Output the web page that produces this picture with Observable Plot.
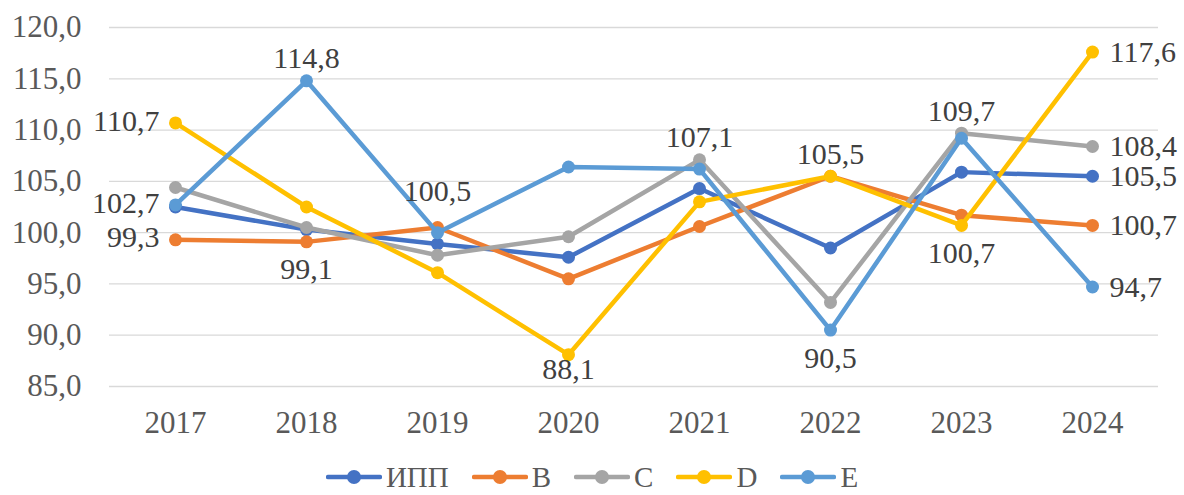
<!DOCTYPE html>
<html>
<head>
<meta charset="utf-8">
<script src="https://cdn.jsdelivr.net/npm/d3@7"></script>
<script src="https://cdn.jsdelivr.net/npm/@observablehq/plot@0.6"></script>
<style>
  html, body { margin: 0; padding: 0; background: #fff; }
  #legend { display: flex; justify-content: center; align-items: center; height: 34px;
    font-family: "Liberation Serif", "Times New Roman", serif; font-size: 29px; color: #595959; }
  #legend .item { display: flex; align-items: center; margin-right: 23px; height: 22px; }
  #legend .item:last-child { margin-right: 0; }
  #legend .item span { margin-left: 4px; line-height: 22px; display: inline-block; height: 22px; }
</style>
</head>
<body>
<div id="chart"></div>
<div id="legend"></div>
<script>
const years = ["2017", "2018", "2019", "2020", "2021", "2022", "2023", "2024"];
const seriesNames = ["ИПП", "B", "C", "D", "E"];
const seriesColors = ["#4472C4", "#ED7D31", "#A5A5A5", "#FFC000", "#5B9BD5"];
const ippValues = [102.5, 100.3, 98.9, 97.6, 104.3, 98.5, 105.9, 105.5];
const bValues   = [99.3, 99.1, 100.5, 95.5, 100.6, 105.5, 101.7, 100.7];
const cValues   = [104.4, 100.5, 97.8, 99.6, 107.1, 93.2, 109.7, 108.4];
const dValues   = [110.7, 102.5, 96.1, 88.1, 103.0, 105.5, 100.7, 117.6];
const eValues   = [102.7, 114.8, 100.0, 106.4, 106.2, 90.5, 109.2, 94.7];
const yTicks = [85, 90, 95, 100, 105, 110, 115, 120];
// data labels: which point gets a label and on which side
const labelSpecs = [
  {series: "D", year: "2017", pos: "left"},
  {series: "E", year: "2017", pos: "left"},
  {series: "B", year: "2017", pos: "left"},
  {series: "E", year: "2018", pos: "top"},
  {series: "B", year: "2018", pos: "bottom"},
  {series: "B", year: "2019", pos: "topFar"},
  {series: "D", year: "2020", pos: "bottomNear"},
  {series: "C", year: "2021", pos: "top"},
  {series: "D", year: "2022", pos: "top"},
  {series: "E", year: "2022", pos: "bottom"},
  {series: "C", year: "2023", pos: "top"},
  {series: "D", year: "2023", pos: "bottom"},
  {series: "D", year: "2024", pos: "right"},
  {series: "C", year: "2024", pos: "right"},
  {series: "ИПП", year: "2024", pos: "right"},
  {series: "B", year: "2024", pos: "right"},
  {series: "E", year: "2024", pos: "right"}
];

const valuesBySeries = [ippValues, bValues, cValues, dValues, eValues];
const rows = seriesNames.flatMap((s, i) => years.map((yr, j) => ({series: s, year: yr, value: valuesBySeries[i][j]})));
const fmt = v => v.toFixed(1).replace(".", ",");
const labelRows = labelSpecs.map(l => ({...l, value: rows.find(r => r.series === l.series && r.year === l.year).value}));

const placements = {
  left: {textAnchor: "end", dx: -16, dy: -2},
  right: {textAnchor: "start", dx: 17, dy: 0},
  top: {dy: -22},
  topFar: {dy: -36},
  bottom: {dy: 28},
  bottomNear: {dy: 15}
};

const seriesMarks = seriesNames.flatMap(s => {
  const data = rows.filter(r => r.series === s);
  return [
    Plot.line(data, {x: "year", y: "value", stroke: "series", strokeWidth: 4.5, strokeLinejoin: "round", strokeLinecap: "round"}),
    Plot.dot(data, {x: "year", y: "value", fill: "series", r: 6.5, stroke: "none"})
  ];
});

const labelMarks = Object.entries(placements).map(([key, opt]) =>
  Plot.text(labelRows.filter(l => l.pos === key), {
    x: "year", y: "value", text: d => fmt(d.value),
    fill: "#404040", fontSize: 30, ...opt
  })
);

const chart = Plot.plot({
  width: 1184,
  height: 460,
  marginTop: 27,
  marginBottom: 74,
  marginLeft: 109,
  marginRight: 26,
  style: {fontFamily: "'Liberation Serif', 'Times New Roman', serif", fontSize: "31px", color: "#595959", background: "#fff", overflow: "visible"},
  x: {type: "point", domain: years, padding: 0.5, label: null},
  y: {domain: [85, 120], label: null},
  color: {domain: seriesNames, range: seriesColors},
  marks: [
    Plot.gridY(yTicks, {stroke: "#D9D9D9", strokeOpacity: 1, strokeWidth: 1.3}),
    Plot.axisY(yTicks, {tickSize: 0, tickPadding: 28, tickFormat: fmt, fontSize: 31, label: null}),
    Plot.axisX({tickSize: 0, tickPadding: 24, fontSize: 31, label: null}),
    ...seriesMarks,
    ...labelMarks
  ]
});
document.getElementById("chart").appendChild(chart);

const legend = document.getElementById("legend");
seriesNames.forEach((s, i) => {
  const item = document.createElement("div");
  item.className = "item";
  const ns = "http://www.w3.org/2000/svg";
  const sw = document.createElementNS(ns, "svg");
  sw.setAttribute("width", "56");
  sw.setAttribute("height", "16");
  const ln = document.createElementNS(ns, "line");
  ln.setAttribute("x1", "2"); ln.setAttribute("x2", "54");
  ln.setAttribute("y1", "8"); ln.setAttribute("y2", "8");
  ln.setAttribute("stroke", seriesColors[i]);
  ln.setAttribute("stroke-width", "4.5");
  ln.setAttribute("stroke-linecap", "round");
  const c = document.createElementNS(ns, "circle");
  c.setAttribute("cx", "28"); c.setAttribute("cy", "8"); c.setAttribute("r", "7");
  c.setAttribute("fill", seriesColors[i]);
  sw.appendChild(ln); sw.appendChild(c);
  const t = document.createElement("span");
  t.textContent = s;
  item.appendChild(sw); item.appendChild(t);
  legend.appendChild(item);
});
</script>
</body>
</html>
